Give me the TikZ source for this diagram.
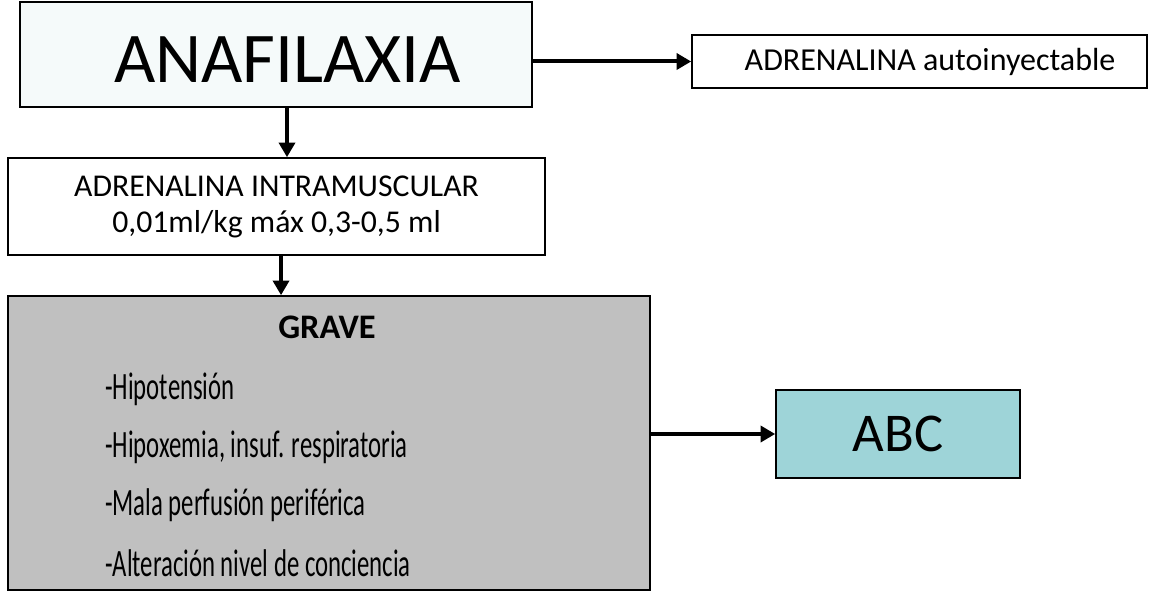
\documentclass[tikz,border=0pt]{standalone}
\usepackage{fontspec}
\setmainfont{Carlito}
\newfontfamily\condfont[FakeStretch=0.64]{Carlito}
\usetikzlibrary{arrows.meta}

\definecolor{anafill}{HTML}{F5FAFA}
\definecolor{gravefill}{HTML}{C0C0C0}
\definecolor{abcfill}{HTML}{9ED4D8}

\tikzset{
  box/.style={draw=black, line width=1.2pt, inner sep=0pt, align=center},
  arr/.style={line width=3pt, -{Triangle[length=11pt,width=12pt]}},
  item/.style={anchor=west, inner sep=0pt, font=\condfont\fontsize{29}{32}\selectfont}
}

\begin{document}
\begin{tikzpicture}[x=0.75pt,y=-0.75pt]
      \useasboundingbox (0,0) rectangle (1155,591);

      \node[box, fill=anafill, minimum width=384pt, minimum height=78.75pt, text height=42.7pt,
            font=\fontsize{53.5}{60}\selectfont] (ana) at (276,54.5) {\hspace*{17.25pt}ANAFILAXIA};
      \node[box, minimum width=341.25pt, minimum height=39.75pt,
            font=\fontsize{24}{28}\selectfont] (auto) at (919.5,61.5) {\hspace*{15.75pt}ADRENALINA autoinyectable};
      \node[box, minimum width=402.75pt, minimum height=72.75pt,
            font=\fontsize{23.8}{27}\selectfont] (im) at (276.5,206.5)
            {ADRENALINA INTRAMUSCULAR\\0,01ml/kg máx 0,3-0,5 ml};
      \node[box, fill=gravefill, minimum width=481.5pt, minimum height=220.5pt] (grave) at (329,443) {};
      \node[box, fill=abcfill, minimum width=183pt, minimum height=66pt,
            font=\fontsize{41}{48}\selectfont] (abc) at (898,434) {ABC};

      % contenido del cuadro grave
      \node[inner sep=0pt, font=\bfseries\fontsize{25.8}{30}\selectfont] (gtitle) at (327,327) {GRAVE};
      \node[item] (g1) at (105,389) {-Hipotensión};
      \node[item] (g2) at (105,447) {-Hipoxemia, insuf. respiratoria};
      \node[item] (g3) at (105,505) {-Mala perfusión periférica};
      \node[item] (g4) at (105,563) {-Alteración nivel de conciencia};

      \draw[arr] (auto.west -| ana.east) -- (auto.west);
      \draw[arr] ([xshift=8.25pt]ana.south) -- ([xshift=8.25pt]ana.south |- im.north);
      \draw[arr] ([xshift=3.4pt]im.south) -- ([xshift=3.4pt]im.south |- grave.north);
      \draw[arr] (abc.west -| grave.east) -- (abc.west);
\end{tikzpicture}
\end{document}
